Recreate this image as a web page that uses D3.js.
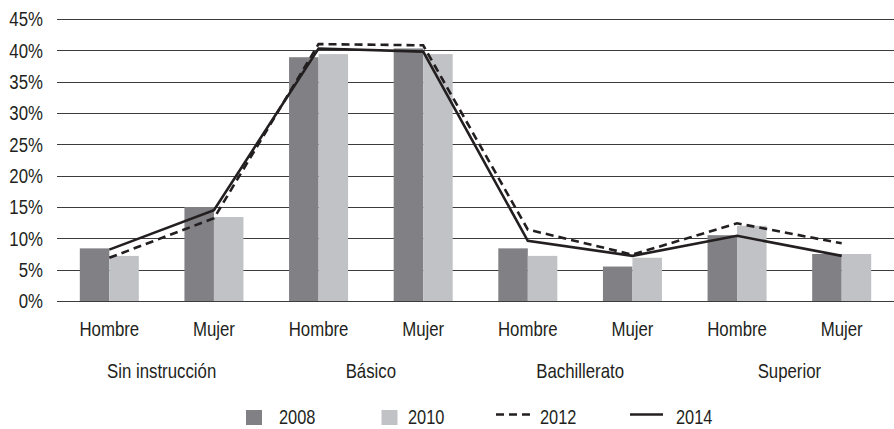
<!DOCTYPE html>
<html>
<head>
<meta charset="utf-8">
<script src="https://cdn.jsdelivr.net/npm/d3@7/dist/d3.min.js"></script>
<style>
  html, body { margin: 0; padding: 0; background: #fff; }
  svg text { font-family: "Liberation Sans", Arial, sans-serif; fill: #231f20; }
</style>
</head>
<body>
<svg id="chart" width="894" height="429"></svg>
<script>
const categories = ["Hombre", "Mujer", "Hombre", "Mujer", "Hombre", "Mujer", "Hombre", "Mujer"];
const groups = ["Sin instrucción", "Básico", "Bachillerato", "Superior"];
const yTicks = [0, 5, 10, 15, 20, 25, 30, 35, 40, 45];
const bars2008 = [8.4, 15.0, 38.9, 40.3, 8.4, 5.5, 10.5, 7.5];
const bars2010 = [7.2, 13.4, 39.4, 39.4, 7.2, 6.9, 12.0, 7.5];
const line2012 = [6.9, 13.2, 41.0, 40.8, 11.4, 7.4, 12.4, 9.2];
const line2014 = [8.2, 14.5, 40.3, 39.8, 9.6, 7.2, 10.4, 7.2];
const legendLabels = ["2008", "2010", "2012", "2014"];

const plotLeft = 57, plotRight = 894, plotTop = 19, plotBottom = 301;
const SX = 0.82; // condensed look
const svg = d3.select("#chart");

const idx = categories.map((_, i) => i);
const x = d3.scaleBand().domain(idx).range([plotLeft, plotRight]).padding(0);
const y = d3.scaleLinear().domain([0, 45]).range([plotBottom, plotTop]);

function condensed(sel, fx, fy) {
  return sel.attr("transform", (d, i) => `translate(${fx(d, i)},${fy(d, i)}) scale(${SX},1)`);
}

// gridlines
svg.append("g").selectAll("line").data(yTicks).join("line")
  .attr("x1", plotLeft).attr("x2", plotRight)
  .attr("y1", d => Math.round(y(d)) + 0.5).attr("y2", d => Math.round(y(d)) + 0.5)
  .attr("stroke", "#3c3c3c").attr("stroke-width", 1.2);

// y axis labels
condensed(
  svg.append("g").selectAll("text").data(yTicks).join("text")
    .attr("text-anchor", "end").attr("font-size", 20.5).attr("dy", "0.36em")
    .text(d => d + "%"),
  () => 43, d => y(d));

// bars
const bw = x.bandwidth() * 0.282;
const series = [{vals: bars2008, color: "#818185", off: -1}, {vals: bars2010, color: "#c1c2c5", off: 0}];
series.forEach(s => {
  svg.append("g").selectAll("rect").data(s.vals).join("rect")
    .attr("x", (d, i) => x(i) + x.bandwidth() / 2 + s.off * bw)
    .attr("width", bw)
    .attr("y", d => y(d))
    .attr("height", d => y(0) - y(d))
    .attr("fill", s.color);
});

// axis line on top of bars
svg.append("line").attr("x1", plotLeft).attr("x2", plotRight)
  .attr("y1", Math.round(y(0)) + 0.5).attr("y2", Math.round(y(0)) + 0.5)
  .attr("stroke", "#3c3c3c").attr("stroke-width", 1.2);

// lines
const lineGen = d3.line().x((d, i) => x(i) + x.bandwidth() / 2).y(d => y(d));
svg.append("path").datum(line2012).attr("d", lineGen)
  .attr("fill", "none").attr("stroke", "#231f20").attr("stroke-width", 2.6)
  .attr("stroke-dasharray", "8,5");
svg.append("path").datum(line2014).attr("d", lineGen)
  .attr("fill", "none").attr("stroke", "#231f20").attr("stroke-width", 2.6);

// category labels
condensed(
  svg.append("g").selectAll("text").data(categories).join("text")
    .attr("text-anchor", "middle").attr("font-size", 20.5)
    .text(d => d),
  (d, i) => x(i) + x.bandwidth() / 2, () => 336);

// group labels
condensed(
  svg.append("g").selectAll("text").data(groups).join("text")
    .attr("text-anchor", "middle").attr("font-size", 20.5)
    .text(d => d),
  (d, i) => (x(2 * i) + x(2 * i + 1) + x.bandwidth()) / 2, () => 378);

// legend
const lg = svg.append("g");
const legendX = [246, 381.5, 496, 630];
const textX = [279, 408, 540, 676];
const legY = 424;
lg.append("rect").attr("x", legendX[0]).attr("y", legY - 14).attr("width", 16).attr("height", 15).attr("fill", "#818185");
lg.append("rect").attr("x", legendX[1]).attr("y", legY - 14).attr("width", 16).attr("height", 15).attr("fill", "#c1c2c5");
lg.append("line").attr("x1", legendX[2]).attr("x2", legendX[2] + 34).attr("y1", legY - 9.5).attr("y2", legY - 9.5)
  .attr("stroke", "#231f20").attr("stroke-width", 2.6).attr("stroke-dasharray", "8,5");
lg.append("line").attr("x1", legendX[3]).attr("x2", legendX[3] + 33).attr("y1", legY - 9.5).attr("y2", legY - 9.5)
  .attr("stroke", "#231f20").attr("stroke-width", 2.6);
condensed(
  lg.selectAll("text").data(legendLabels).join("text")
    .attr("font-size", 20)
    .text(d => d),
  (d, i) => textX[i], () => legY);
</script>
</body>
</html>
